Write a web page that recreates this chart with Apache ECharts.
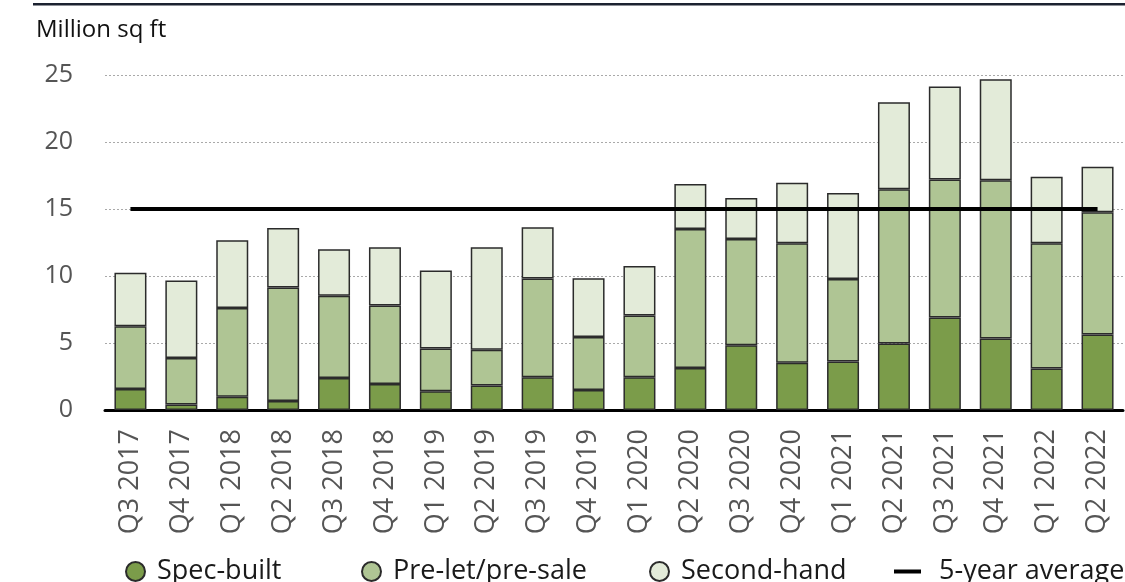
<!DOCTYPE html>
<html>
<head>
<meta charset="utf-8">
<script src="https://cdn.jsdelivr.net/npm/echarts@6/dist/echarts.min.js"></script>
<style>
  html, body { margin: 0; padding: 0; background: #fff; }
  #chart { width: 1125px; height: 582px; }
</style>
</head>
<body>
<div id="chart"></div>
<script>
// Quarterly take-up, million sq ft
const quarters = ['Q3 2017','Q4 2017','Q1 2018','Q2 2018','Q3 2018','Q4 2018','Q1 2019','Q2 2019','Q3 2019','Q4 2019',
                  'Q1 2020','Q2 2020','Q3 2020','Q4 2020','Q1 2021','Q2 2021','Q3 2021','Q4 2021','Q1 2022','Q2 2022'];
const specBuilt  = [1.57, 0.41, 0.98, 0.68, 2.39, 1.94, 1.40, 1.82, 2.44, 1.50, 2.45, 3.13, 4.84, 3.52, 3.62, 4.96, 6.90, 5.34, 3.10, 5.63];
const preLet     = [4.68, 3.47, 6.64, 8.47, 6.14, 5.85, 3.19, 2.67, 7.38, 3.94, 4.60, 10.38, 7.92, 8.92, 6.16, 11.51, 10.31, 11.80, 9.34, 9.12];
const secondHand = [3.99, 5.79, 5.05, 4.43, 3.47, 4.36, 5.82, 7.66, 3.81, 4.40, 3.70, 3.35, 3.06, 4.52, 6.41, 6.50, 6.93, 7.55, 4.97, 3.41];
const fiveYearAvg = [15, 15, 15, 15, 15, 15, 15, 15, 15, 15, 15, 15, 15, 15, 15, 15, 15, 15, 15, 15];
const yTicks = [0, 5, 10, 15, 20, 25];

const FONT = '"Open Sans", "Noto Sans", sans-serif';
const COLORS = { spec: '#7b9c4a', prelet: '#afc594', second: '#e3ebd9' };
const EDGE = '#2b2b2b';

const chart = echarts.init(document.getElementById('chart'), null, { renderer: 'canvas' });

function barSeries(name, data, color) {
  return {
    name, type: 'bar', stack: 'total', data,
    barWidth: 32,
    itemStyle: { color, borderColor: EDGE, borderWidth: 1.5 },
    emphasis: { disabled: true }
  };
}

function legendAt(name, left, icon, w, h, gap) {
  return {
    data: [{ name, icon }],
    left, top: 558,
    padding: 0,
    itemWidth: w, itemHeight: h,
    selectedMode: false,
    textStyle: { fontFamily: FONT, fontSize: 27, color: '#1a1a1a', padding: [0, 0, 0, gap] }
  };
}

chart.setOption({
  animation: false,
  backgroundColor: '#fff',
  graphic: [
    { type: 'rect', shape: { x: 33, y: 3, width: 1092, height: 2.5 }, style: { fill: '#1c2230' } },
    { type: 'text', left: 36, top: 18, style: { text: 'Million sq ft', font: '24px ' + FONT, fill: '#111' } }
  ],
  grid: { left: 105, right: 2, top: 75, bottom: 172, containLabel: false },
  legend: [
    legendAt('Spec-built', 125, 'circle', 19, 19, 7),
    legendAt('Pre-let/pre-sale', 361, 'circle', 19, 19, 7),
    legendAt('Second-hand', 649, 'circle', 19, 19, 7),
    legendAt('5-year average', 894, 'rect', 27, 4, 13)
  ],
  xAxis: {
    type: 'category',
    data: quarters,
    boundaryGap: true,
    axisLine: { lineStyle: { color: '#000', width: 3 } },
    axisTick: { show: false },
    axisLabel: {
      rotate: 90, margin: 19, interval: 0,
      fontFamily: FONT, fontSize: 27, color: '#555'
    }
  },
  yAxis: {
    type: 'value',
    min: yTicks[0], max: yTicks[yTicks.length - 1], interval: 5,
    axisLine: { show: false },
    axisTick: { show: false },
    splitLine: { lineStyle: { color: '#a9a9a9', type: [2, 2], width: 1 } },
    axisLabel: { margin: 32, fontFamily: FONT, fontSize: 25, color: '#555' }
  },
  series: [
    barSeries('Spec-built', specBuilt, COLORS.spec),
    barSeries('Pre-let/pre-sale', preLet, COLORS.prelet),
    barSeries('Second-hand', secondHand, COLORS.second),
    {
      name: '5-year average', type: 'line', data: fiveYearAvg,
      symbol: 'none', z: 5,
      itemStyle: { color: '#000' },
      lineStyle: { color: '#000', width: 4 },
      emphasis: { disabled: true }
    }
  ]
});
</script>
</body>
</html>
